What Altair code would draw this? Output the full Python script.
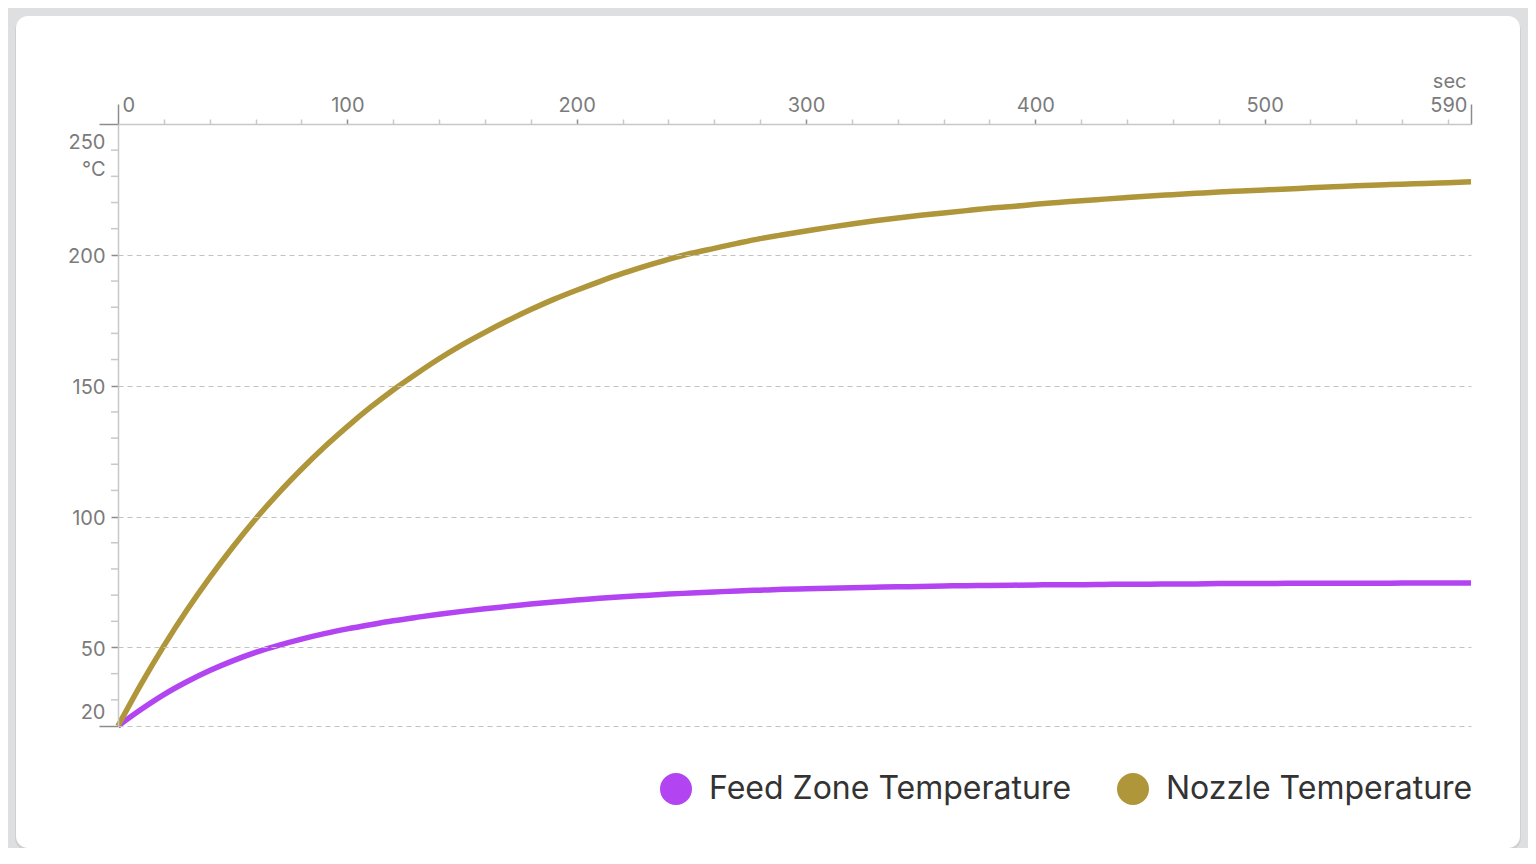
import altair as alt
import pandas as pd

# ---- data ----
time_s = list(range(0, 600, 10))
feed_zone = [20.0, 26.3, 32.0, 36.9, 41.2, 44.9, 48.1, 50.8, 53.2, 55.3,
             57.1, 58.7, 60.2, 61.5, 62.7, 63.8, 64.8, 65.7, 66.6, 67.4,
             68.1, 68.8, 69.4, 69.9, 70.4, 70.8, 71.2, 71.6, 71.9, 72.2,
             72.4, 72.6, 72.8, 73.0, 73.2, 73.3, 73.5, 73.6, 73.7, 73.8,
             73.9, 74.0, 74.0, 74.1, 74.2, 74.2, 74.3, 74.3, 74.4, 74.4,
             74.4, 74.5, 74.5, 74.5, 74.5, 74.5, 74.6, 74.6, 74.6, 74.6]
nozzle = [20.0, 35.9, 50.6, 64.2, 76.7, 88.3, 99.1, 109.0, 118.1, 126.6,
          134.4, 141.7, 148.4, 154.5, 160.3, 165.6, 170.4, 174.9, 179.1, 183.0,
          186.5, 189.8, 192.9, 195.7, 198.3, 200.6, 202.5, 204.4, 206.2, 207.7,
          209.1, 210.5, 211.8, 213.0, 214.1, 215.1, 216.0, 216.9, 217.8, 218.5,
          219.3, 220.0, 220.7, 221.3, 221.9, 222.5, 223.0, 223.5, 224.0, 224.4,
          224.8, 225.2, 225.6, 226.0, 226.4, 226.7, 227.0, 227.3, 227.6, 227.9]
series_names = ["Feed Zone Temperature", "Nozzle Temperature"]
series_colors = ["#b244f2", "#b0963a"]

x_labels = [0, 100, 200, 300, 400, 500, 590]
x_ticks = list(range(0, 590, 20)) + [590]
y_labels = [20, 50, 100, 150, 200, 250]
y_minor_ticks = [v for v in range(20, 251, 10) if v not in y_labels]

rows = []
for t, f, n in zip(time_s, feed_zone, nozzle):
    rows.append({"t": t, "temp": f, "series": series_names[0]})
    rows.append({"t": t, "temp": n, "series": series_names[1]})
df = pd.DataFrame(rows)

FONT = "Inter"
LABEL_GRAY = "#7b7b7b"
MAJOR_TICK = "#8c8c8c"
MINOR_TICK = "#c8c8c8"

x_scale = alt.Scale(domain=[0, 590], nice=False, zero=False)
y_scale = alt.Scale(domain=[20, 250], nice=False, zero=False)
c_scale = alt.Scale(domain=series_names, range=series_colors)

x_major_test = "indexof([0,100,200,300,400,500,590], datum.value) >= 0"
x_end_test = "datum.value === 0 || datum.value === 590"
y_end_test = "datum.value === 20 || datum.value === 250"

x_axis = alt.Axis(
    orient="top",
    values=x_ticks,
    labelExpr=x_major_test + " ? datum.label : ''",
    grid=False,
    zindex=2,
    domainColor=MINOR_TICK,
    domainWidth=1.5,
    tickWidth=1.5,
    tickColor={"condition": {"test": x_major_test, "value": MAJOR_TICK}, "value": MINOR_TICK},
    tickSize={"condition": {"test": x_end_test, "value": 20}, "value": 5},
    labelPadding={"condition": {"test": x_end_test, "value": -11}, "value": 4},
    labelFlush=True,
    labelFlushOffset=-4,
    labelFont=FONT,
    labelFontSize=20,
    labelColor=LABEL_GRAY,
    labelOverlap=False,
    title="sec",
    titleFont=FONT,
    titleFontSize=20,
    titleFontWeight="normal",
    titleColor=LABEL_GRAY,
    titleAngle=0,
    titleAlign="right",
    titleBaseline="alphabetic",
    titleX=1348,
    titleY=-37,
)

y_axis = alt.Axis(
    orient="left",
    values=y_labels,
    grid=True,
    zindex=1,
    gridColor="#c2c2c2",
    gridDash=[5, 4],
    gridWidth=1.2,
    domainColor=MINOR_TICK,
    domainWidth=1.5,
    tickWidth=1.5,
    tickColor=MAJOR_TICK,
    tickSize={"condition": {"test": y_end_test, "value": 19}, "value": 7},
    labelPadding={"condition": {"test": y_end_test, "value": -6}, "value": 6},
    labelFlush=True,
    labelFlushOffset=-6,
    labelOffset=2,
    labelFont=FONT,
    labelFontSize=20,
    labelColor=LABEL_GRAY,
    labelOverlap=False,
    title="°C",
    titleFont=FONT,
    titleFontSize=20,
    titleFontWeight="normal",
    titleColor=LABEL_GRAY,
    titleAngle=0,
    titleAlign="right",
    titleBaseline="alphabetic",
    titleX=-13,
    titleY=51,
)

# decorative card behind the plot
card_data = alt.Data(values=[{"card": 1}])
shadow = alt.Chart(card_data).mark_rect(
    cornerRadius=13, color="#cfd0d3"
).encode(
    x=alt.value(-103), x2=alt.value(1403), y=alt.value(-107), y2=alt.value(727)
)
card = alt.Chart(card_data).mark_rect(
    cornerRadius=12, color="#ffffff"
).encode(
    x=alt.value(-102), x2=alt.value(1402), y=alt.value(-108), y2=alt.value(724)
)

lines = alt.Chart(df).mark_line(strokeWidth=5.5, interpolate="monotone").encode(
    x=alt.X("t:Q", scale=x_scale, axis=x_axis),
    y=alt.Y("temp:Q", scale=y_scale, axis=y_axis),
    stroke=alt.Stroke(
        "series:N",
        scale=c_scale,
        sort=series_names,
        legend=alt.Legend(
            orient="none",
            legendX=542,
            legendY=649,
            direction="horizontal",
            title=None,
            zindex=2,
            # a circle of diameter 16 stroked 16 wide renders as a filled disc of 32
            symbolType="circle",
            symbolSize=256,
            symbolStrokeWidth=16,
            symbolOpacity=1,
            labelFont=FONT,
            labelFontSize=32,
            labelColor="#333333",
            labelOffset=17,
            columnPadding=21,
            labelLimit=800,
        ),
    ),
    detail="series:N",
)

# minor ticks of the y axis (same field name so the axis merges cleanly)
y_minor = alt.Chart(pd.DataFrame({"temp": y_minor_ticks})).mark_rule(
    color=MINOR_TICK, strokeWidth=1.5
).encode(
    y=alt.Y("temp:Q", scale=y_scale),
    x=alt.value(-7),
    x2=alt.value(0),
)

chart = alt.layer(shadow, card, lines, y_minor).properties(
    width=1353,
    height=602,
    background="#dedfe1",
    padding={"left": 110, "top": 116, "right": 57, "bottom": 122},
    autosize=alt.AutoSizeParams(type="none"),
).configure_view(stroke=None)

chart.save("out.html", embed_options={"renderer": "svg", "actions": False})
